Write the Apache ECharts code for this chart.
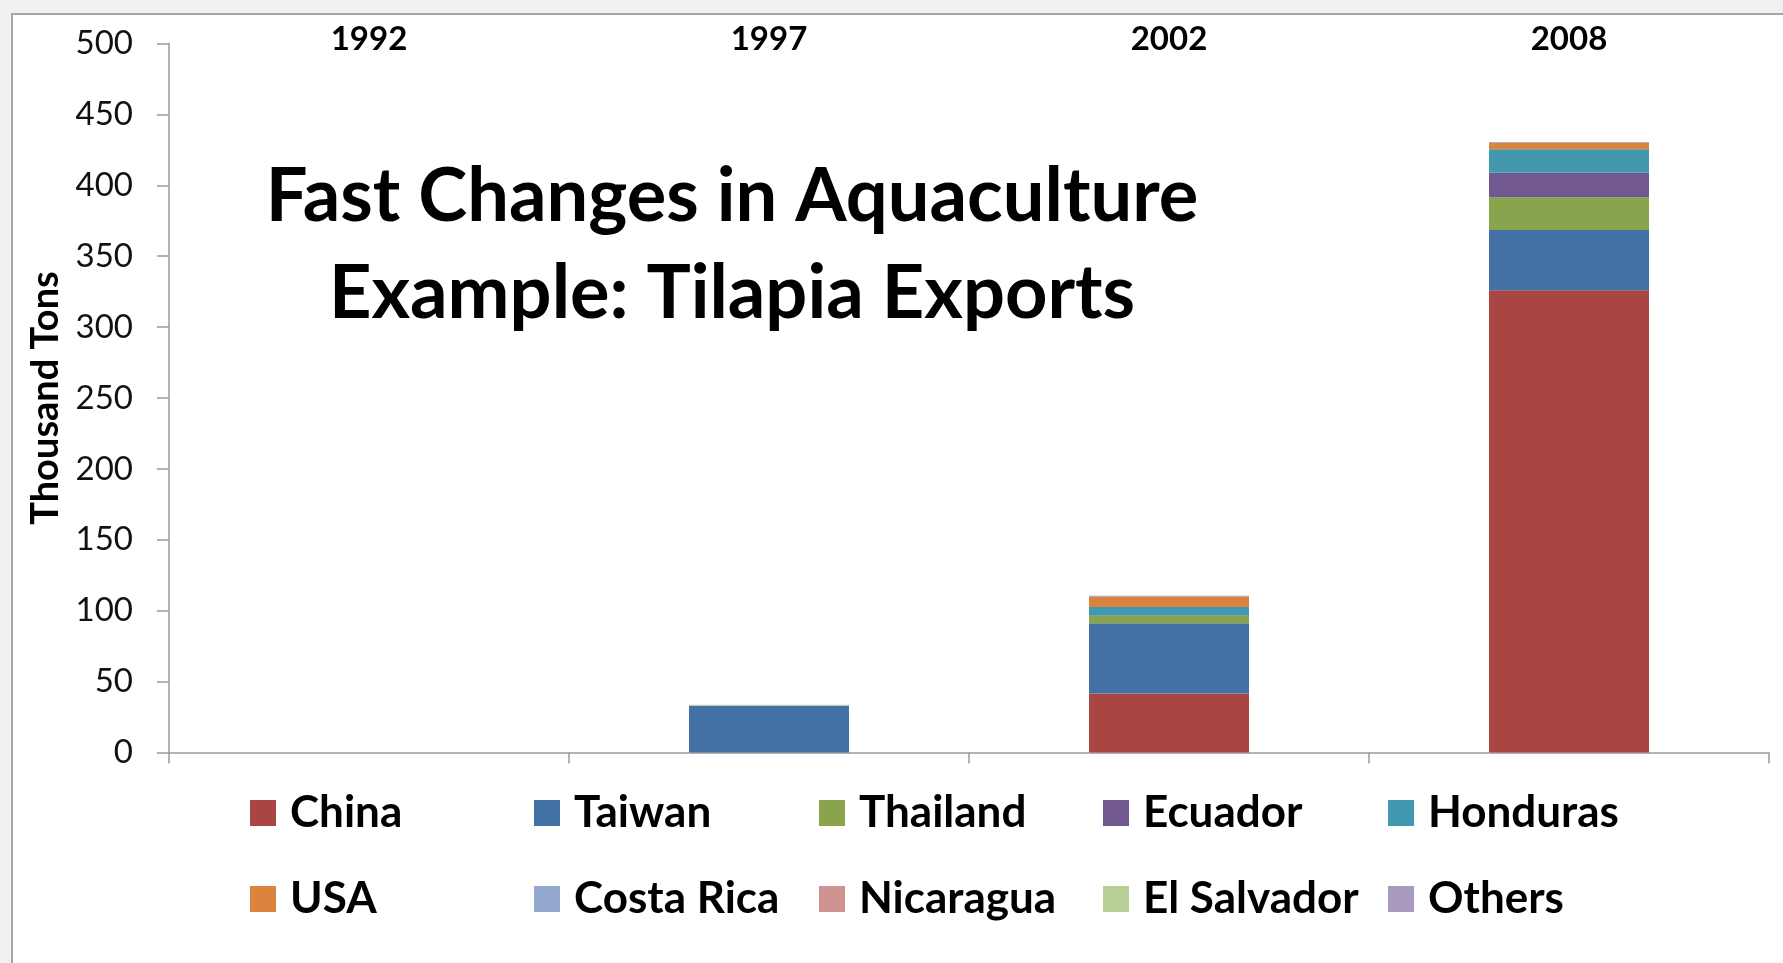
<!DOCTYPE html>
<html>
<head>
<meta charset="utf-8">
<title>Tilapia Exports</title>
<script src="https://cdn.jsdelivr.net/npm/echarts@6/dist/echarts.min.js"></script>
<style>
  html, body { margin: 0; padding: 0; background: #f1f1f1; }
  #frame {
    position: absolute; left: 11px; top: 13px; width: 1800px; height: 980px;
    background: #ffffff; border-top: 2px solid #a6a6a6; border-left: 2px solid #a6a6a6;
  }
  #chart { position: absolute; left: 0; top: 0; width: 1783px; height: 963px; }
</style>
</head>
<body>
<div id="frame"></div>
<div id="chart"></div>
<script>
// Export years
const years = ['1992', '1997', '2002', '2008'];

// Exporters, stacked bottom to top
const countries = ['China', 'Taiwan', 'Thailand', 'Ecuador', 'Honduras',
                   'USA', 'Costa Rica', 'Nicaragua', 'El Salvador', 'Others'];

// Export volumes, thousand tons, one value per year
const china      = [0, 0,    41.6, 326.0];
const taiwan     = [0, 33.0, 49.5, 42.5];
const thailand   = [0, 0,    5.4,  23.0];
const ecuador    = [0, 0,    0,    17.3];
const honduras   = [0, 0,    6.1,  16.7];
const usa        = [0, 0,    7.3,  4.5];
const costaRica  = [0, 0,    0,    0];
const nicaragua  = [0, 0,    0,    0];
const elSalvador = [0, 0.6,  0,    0];
const others     = [0, 0,    0.6,  0.6];

// Value axis ticks
const yTicks = [0, 50, 100, 150, 200, 250, 300, 350, 400, 450, 500];

const seriesValues = [china, taiwan, thailand, ecuador, honduras,
                      usa, costaRica, nicaragua, elSalvador, others];

const palette = ['#a94543', '#4371a6', '#89a44c', '#71588f', '#4198af',
                 '#db843d', '#93a9cf', '#d19392', '#b9cd96', '#a99bbd'];

const FONT = 'Lato, "Open Sans", sans-serif';

const chart = echarts.init(document.getElementById('chart'), null, { renderer: 'canvas' });

// One legend block per entry, laid out in a 5 x 2 grid
const legendCols = [250, 534, 819, 1103, 1388];
const legendRows = [789, 875];
const legends = countries.map((name, i) => ({
  data: [name],
  left: legendCols[i % 5],
  top: legendRows[Math.floor(i / 5)],
  padding: 0,
  icon: 'rect',
  itemWidth: 26,
  itemHeight: 26,
  selectedMode: false,
  textStyle: {
    fontFamily: FONT, fontSize: 44, fontWeight: 'bold', color: '#000',
    lineHeight: 48, padding: [0, 0, 0, 9]
  }
}));

const option = {
  animation: false,
  color: palette,
  title: {
    text: 'Fast Changes in Aquaculture\nExample: Tilapia Exports',
    left: 727,
    top: 144,
    textAlign: 'center',
    textStyle: {
      fontFamily: FONT, fontSize: 74, fontWeight: 'bold', color: '#000',
      lineHeight: 97, align: 'center'
    }
  },
  legend: legends,
  grid: { left: 169, right: 14, top: 43.5, bottom: 210.5, containLabel: false },
  xAxis: [
    {
      type: 'category',
      data: years,
      position: 'bottom',
      axisLine: { lineStyle: { color: '#9a9a9a', width: 1.5 } },
      axisTick: { show: true, length: 11, lineStyle: { color: '#9a9a9a', width: 1.5 } },
      axisLabel: { show: false }
    },
    {
      type: 'category',
      data: years,
      position: 'top',
      axisLine: { show: false },
      axisTick: { show: false },
      axisLabel: {
        margin: -12,
        fontFamily: FONT, fontSize: 33, fontWeight: 'bold', color: '#000'
      }
    }
  ],
  yAxis: {
    type: 'value',
    min: yTicks[0],
    max: yTicks[yTicks.length - 1],
    interval: yTicks[1] - yTicks[0],
    name: 'Thousand Tons',
    nameLocation: 'middle',
    nameGap: 104,
    nameTextStyle: { fontFamily: FONT, fontSize: 38, fontWeight: 'bold', color: '#000' },
    axisLine: { show: true, lineStyle: { color: '#9a9a9a', width: 1.5 } },
    axisTick: { show: true, length: 12, lineStyle: { color: '#9a9a9a', width: 1.5 } },
    splitLine: { show: false },
    axisLabel: {
      margin: 36,
      padding: [6, 0, 0, 0],
      fontFamily: FONT, fontSize: 33, color: '#111'
    }
  },
  series: countries.map((name, i) => ({
    name: name,
    type: 'bar',
    stack: 'exports',
    xAxisIndex: 0,
    barWidth: '40%',
    data: seriesValues[i],
    itemStyle: { color: palette[i] }
  }))
};

chart.setOption(option);
</script>
</body>
</html>
